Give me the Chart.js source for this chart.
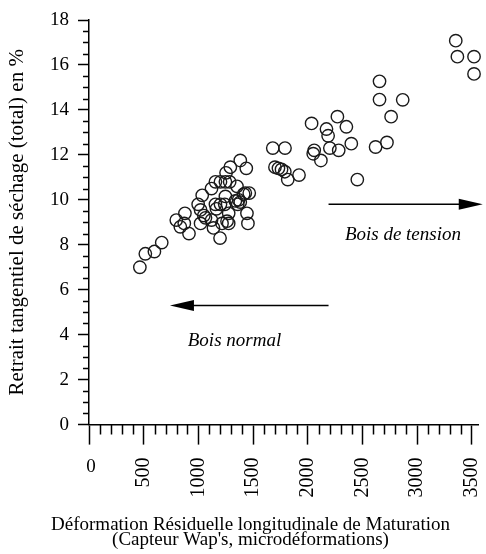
<!DOCTYPE html>
<html>
<head>
<meta charset="utf-8">
<script src="https://cdn.jsdelivr.net/npm/chart.js@4.4.0/dist/chart.umd.min.js"></script>
<style>
  html, body { margin: 0; padding: 0; background: #fff; }
</style>
</head>
<body>
<canvas id="retraitChart" width="486" height="554"></canvas>
<script>
// Déformation résiduelle longitudinale (microdéformations)
const deformation = [
  465, 515, 598, 665,
  798, 835, 871, 877, 914,
  998, 1020, 1020, 1035, 1050, 1065, 1120, 1120, 1138, 1156, 1156, 1165, 1198,
  1202, 1202, 1216, 1241, 1247, 1247, 1253, 1262, 1277, 1277, 1286, 1292,
  1338, 1353, 1360, 1368, 1383, 1383, 1414, 1429, 1438, 1444, 1453, 1465,
  1680, 1700, 1732, 1760, 1790, 1792, 1817, 1920,
  2035, 2050, 2059, 2120, 2171, 2186, 2202, 2271, 2283, 2353, 2398, 2453,
  2620, 2656, 2656, 2724, 2762, 2868,
  3353, 3368, 3520, 3520
];
// Retrait tangentiel total (%)
const retrait = [
  7.0, 7.6, 7.7, 8.1,
  9.1, 8.8, 8.95, 9.4, 8.5,
  9.8, 8.95, 9.55, 10.2, 9.3, 9.2, 9.1, 10.5, 8.75, 10.8, 9.8, 9.6, 8.3,
  10.8, 9.8, 8.95, 9.8, 10.8, 10.15, 11.2, 9.05, 8.95, 9.4, 10.8, 11.45,
  9.95, 10.6, 9.8, 10.0, 11.75, 9.9, 10.25, 10.3, 11.4, 9.4, 8.95, 10.3,
  12.3, 11.45, 11.4, 11.35, 11.25, 12.3, 10.9, 11.1,
  13.4, 12.05, 12.2, 11.75, 13.15, 12.85, 12.3, 13.7, 12.2, 13.25, 12.5, 10.9,
  12.35, 15.27, 14.46, 12.55, 13.7, 14.45,
  17.08, 16.37, 16.37, 15.6
];

const xTickLabels = [0, 500, 1000, 1500, 2000, 2500, 3000, 3500];
const yTickLabels = [0, 2, 4, 6, 8, 10, 12, 14, 16, 18];

// Flèches et étiquettes (en coordonnées des données)
const arrowStart = [2190, 2190];
const arrowEnd = [3600, 740];
const arrowLevel = [9.8, 5.3];
const noteText = ['Bois de tension', 'Bois normal'];
const noteX = [2870, 1330];
const noteY = [8.45, 3.7];

const serif = '"Liberation Serif", "DejaVu Serif", serif';

const points = deformation.map((v, i) => ({ x: v, y: retrait[i] }));

// ticks mineurs, "0" horizontal, flèches et textes
const decorations = {
  id: 'decorations',
  afterDraw(chart) {
    const { ctx, scales: { x, y } } = chart;
    ctx.save();
    ctx.strokeStyle = '#000';
    ctx.lineWidth = 1.5;
    ctx.beginPath();
    for (let v = 100; v <= x.max; v += 100) {
      if (v % 500 === 0) continue;
      const px = Math.round(x.getPixelForValue(v)) + 0.5;
      ctx.moveTo(px, x.top);
      ctx.lineTo(px, x.top + 10);
    }
    for (let v = 0.5; v < y.max; v += 0.5) {
      if (v % 2 === 0) continue;
      const py = Math.round(y.getPixelForValue(v)) + 0.5;
      ctx.moveTo(y.right - 6, py);
      ctx.lineTo(y.right, py);
    }
    ctx.stroke();

    ctx.fillStyle = '#000';
    ctx.font = '19px ' + serif;
    ctx.textAlign = 'center';
    ctx.textBaseline = 'middle';
    ctx.fillText(String(xTickLabels[0]), x.getPixelForValue(xTickLabels[0]) + 2, x.top + 42);

    arrowStart.forEach((s, i) => {
      const x1 = x.getPixelForValue(s);
      const x2 = x.getPixelForValue(arrowEnd[i]);
      const py = y.getPixelForValue(arrowLevel[i]);
      const dir = Math.sign(x2 - x1);
      ctx.beginPath();
      ctx.moveTo(x1, py);
      ctx.lineTo(x2 - dir * 18, py);
      ctx.stroke();
      ctx.beginPath();
      ctx.moveTo(x2, py);
      ctx.lineTo(x2 - dir * 24, py - 5.5);
      ctx.lineTo(x2 - dir * 24, py + 5.5);
      ctx.closePath();
      ctx.fill();
    });

    ctx.font = 'italic 19px ' + serif;
    noteText.forEach((t, i) => {
      ctx.fillText(t, x.getPixelForValue(noteX[i]), y.getPixelForValue(noteY[i]));
    });
    ctx.restore();
  }
};

const ctx = document.getElementById('retraitChart').getContext('2d');
const retraitChart = new Chart(ctx, {
  type: 'scatter',
  data: {
    datasets: [{
      label: 'Retrait tangentiel',
      data: points,
      pointRadius: 6.2,
      pointHoverRadius: 6.2,
      borderColor: '#1a1a1a',
      borderWidth: 1.4,
      backgroundColor: 'rgba(0,0,0,0)',
      clip: false
    }]
  },
  options: {
    responsive: false,
    animation: false,
    devicePixelRatio: 1,
    layout: { padding: { top: 20, right: 5, left: 20, bottom: 0 } },
    scales: {
      x: {
        type: 'linear',
        min: 0,
        max: 3560,
        afterFit: s => { s.height = 91; s.paddingLeft = 0; s.paddingRight = 0; },
        afterBuildTicks: s => { s.ticks = xTickLabels.map(v => ({ value: v })); },
        border: { display: true, color: '#000', width: 1.5 },
        grid: { drawOnChartArea: false, drawTicks: true, tickLength: 20, tickColor: '#000', tickWidth: 1.5 },
        ticks: {
          color: '#000',
          font: { family: serif, size: 20 },
          minRotation: 90,
          maxRotation: 90,
          padding: 13,
          autoSkip: false,
          callback: v => (v === 0 ? '' : String(v))
        }
      },
      y: {
        min: 0,
        max: 18,
        afterFit: s => { s.width = 69; s.paddingTop = 0; s.paddingBottom = 0; },
        afterBuildTicks: s => { s.ticks = yTickLabels.map(v => ({ value: v })); },
        border: { display: true, color: '#000', width: 1.5 },
        grid: { drawOnChartArea: false, drawTicks: true, tickLength: 11, tickColor: '#000', tickWidth: 1.5 },
        ticks: {
          color: '#000',
          font: { family: serif, size: 19 },
          padding: 9,
          callback: v => String(v)
        },
        title: {
          display: true,
          text: 'Retrait tangentiel de séchage (total) en %',
          color: '#000',
          font: { family: serif, size: 21 },
          padding: { top: -15, bottom: 0 }
        }
      }
    },
    plugins: {
      legend: { display: false },
      tooltip: { enabled: false },
      title: {
        display: true,
        position: 'bottom',
        text: ['Déformation Résiduelle longitudinale de Maturation', "(Capteur Wap's, microdéformations)"],
        color: '#000',
        font: { family: serif, size: 19, weight: 'normal', lineHeight: 0.8 },
        padding: { top: 2, bottom: 6 }
      }
    }
  },
  plugins: [decorations]
});
</script>
</body>
</html>
